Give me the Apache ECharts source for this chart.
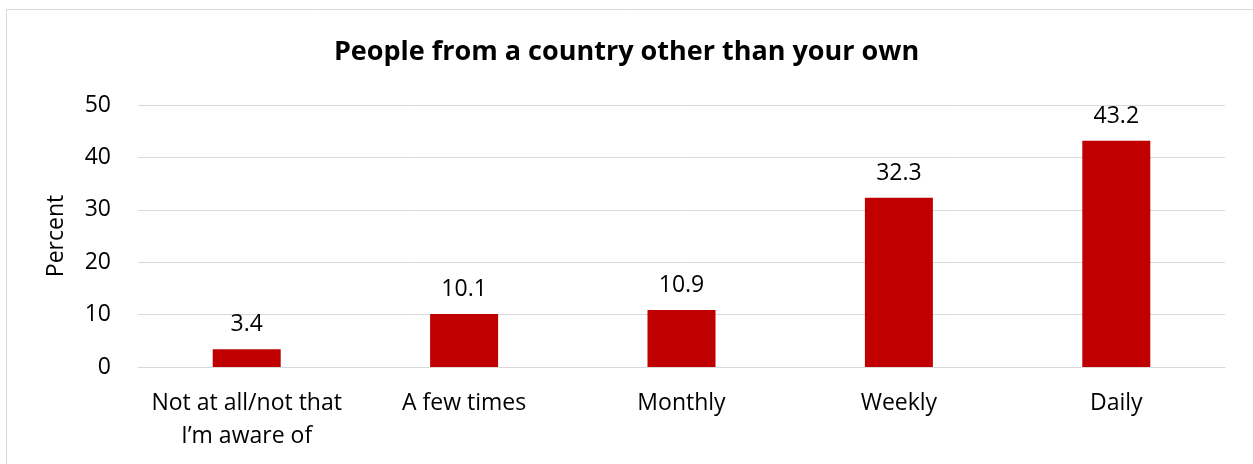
<!DOCTYPE html>
<html>
<head>
<meta charset="utf-8">
<script src="https://cdn.jsdelivr.net/npm/echarts@6/dist/echarts.min.js"></script>
<style>
html,body{margin:0;padding:0;background:#fff;}
#chart{width:1253px;height:464px;}
</style>
</head>
<body>
<div id="chart"></div>
<script>
const titleText = 'People from a country other than your own';
const categories = ['Not at all/not that\nI\u2019m aware of', 'A few times', 'Monthly', 'Weekly', 'Daily'];
const values = [3.4, 10.1, 10.9, 32.3, 43.2];
const yMin = 0, yMax = 50, yStep = 10;
const yName = 'Percent';

const FONT = '"Open Sans", "Noto Sans", sans-serif';
const chart = echarts.init(document.getElementById('chart'), null, {renderer: 'canvas'});
chart.setOption({
  animation: false,
  backgroundColor: '#fff',
  textStyle: {fontFamily: FONT},
  title: {
    text: titleText,
    left: 'center',
    top: 39,
    padding: 0,
    textStyle: {fontFamily: FONT, fontSize: 27, fontWeight: 'bold', color: '#000'}
  },
  graphic: [{
    type: 'rect',
    shape: {x: 6.5, y: 9.5, width: 1400, height: 600},
    style: {fill: 'none', stroke: '#d9d9d9', lineWidth: 1}
  }],
  grid: {left: 138, right: 28, top: 105, bottom: 97, containLabel: false},
  xAxis: {
    type: 'category',
    data: categories,
    axisLine: {show: true, lineStyle: {color: '#d9d9d9', width: 1}},
    axisTick: {show: false},
    axisLabel: {fontFamily: FONT, fontSize: 23, color: '#000', margin: 20, lineHeight: 33, interval: 0}
  },
  yAxis: {
    type: 'value',
    min: yMin, max: yMax, interval: yStep,
    name: yName,
    nameLocation: 'middle',
    nameRotate: 90,
    nameGap: 70,
    nameTextStyle: {fontFamily: FONT, fontSize: 23, color: '#000'},
    axisLine: {show: false},
    axisTick: {show: false},
    axisLabel: {fontFamily: FONT, fontSize: 23, color: '#000', margin: 27},
    splitLine: {lineStyle: {color: '#d9d9d9', width: 1}}
  },
  series: [{
    type: 'bar',
    data: values,
    barWidth: 68,
    itemStyle: {color: '#C00000'},
    label: {show: true, position: 'top', distance: 13, fontFamily: FONT, fontSize: 23, color: '#000'}
  }]
});
</script>
</body>
</html>
